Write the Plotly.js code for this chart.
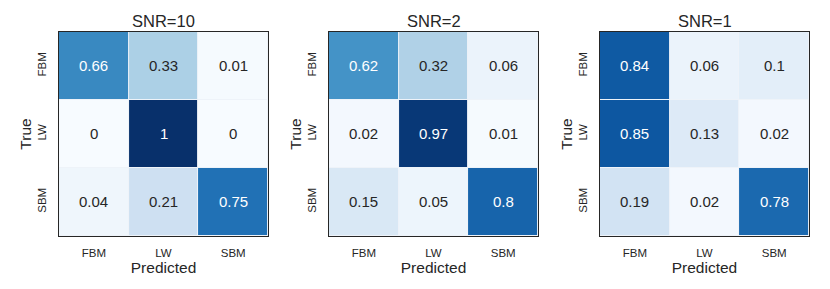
<!DOCTYPE html>
<html>
<head>
<meta charset="utf-8">
<script src="https://cdn.plot.ly/plotly-3.0.1.min.js"></script>
<style>html,body{margin:0;padding:0;background:#fff;}#chart{width:830px;height:289px;}</style>
</head>
<body>
<div id="chart"></div>
<script>
const classes = ['FBM', 'LW', 'SBM'];
const panelTitles = ['SNR=10', 'SNR=2', 'SNR=1'];
const snr10 = [[0.66, 0.33, 0.01], [0, 1, 0], [0.04, 0.21, 0.75]];
const snr2 = [[0.62, 0.32, 0.06], [0.02, 0.97, 0.01], [0.15, 0.05, 0.8]];
const snr1 = [[0.84, 0.06, 0.1], [0.85, 0.13, 0.02], [0.19, 0.02, 0.78]];
const matrices = [snr10, snr2, snr1];

const blues = [
  [0, '#f7fbff'], [0.125, '#deebf7'], [0.25, '#c6dbef'], [0.375, '#9ecae1'],
  [0.5, '#6baed6'], [0.625, '#4292c6'], [0.75, '#2171b5'], [0.875, '#08519c'], [1, '#08306b']
];
const ink = '#262626';
const font = 'Liberation Sans, Arial, sans-serif';
const xDomains = [[0.0711, 0.3229], [0.3964, 0.6482], [0.7229, 0.9747]];
const yDomain = [0.1834, 0.8893];

const data = [];
const annotations = [];
const layout = {
  width: 830, height: 289,
  margin: {l: 0, r: 0, t: 0, b: 0},
  paper_bgcolor: '#ffffff', plot_bgcolor: '#eef3f9',
  font: {family: font, color: ink},
  showlegend: false,
  annotations: annotations
};

matrices.forEach((m, i) => {
  const xa = 'x' + (i ? i + 1 : '');
  const ya = 'y' + (i ? i + 1 : '');
  data.push({
    type: 'heatmap', z: m, x: classes, y: classes,
    xaxis: xa, yaxis: ya,
    colorscale: blues, zmin: 0, zmax: 1, showscale: false,
    xgap: 1, ygap: 1, hoverinfo: 'skip'
  });
  const axBase = {
    showline: true, mirror: true, linecolor: ink, linewidth: 1.3,
    showgrid: false, zeroline: false, ticks: 'outside', tickcolor: 'rgba(0,0,0,0)',
    tickfont: {size: 11.5, color: ink, family: font}, type: 'category',
    fixedrange: true
  };
  layout['xaxis' + (i ? i + 1 : '')] = Object.assign({}, axBase, {
    domain: xDomains[i], anchor: ya, ticklen: 6,
    title: {text: 'Predicted', font: {size: 15.5, color: ink}, standoff: 1}
  });
  layout['yaxis' + (i ? i + 1 : '')] = Object.assign({}, axBase, {
    domain: yDomain, anchor: xa, autorange: 'reversed', ticklen: 7, tickangle: -90,
    title: {text: 'True', font: {size: 15.5, color: ink}, standoff: 0}
  });
  annotations.push({
    xref: 'paper', yref: 'paper', x: (xDomains[i][0] + xDomains[i][1]) / 2, y: 1 - 21 / 289,
    text: panelTitles[i], showarrow: false, font: {size: 16.5, color: ink},
    xanchor: 'center', yanchor: 'middle'
  });
  m.forEach((row, r) => row.forEach((v, c) => {
    annotations.push({
      xref: xa, yref: ya, x: classes[c], y: classes[r], text: String(v), showarrow: false,
      font: {size: 15, color: v > 0.5 ? '#ffffff' : ink}
    });
  }));
});

Plotly.newPlot('chart', data, layout, {displayModeBar: false, staticPlot: true});
</script>
</body>
</html>
